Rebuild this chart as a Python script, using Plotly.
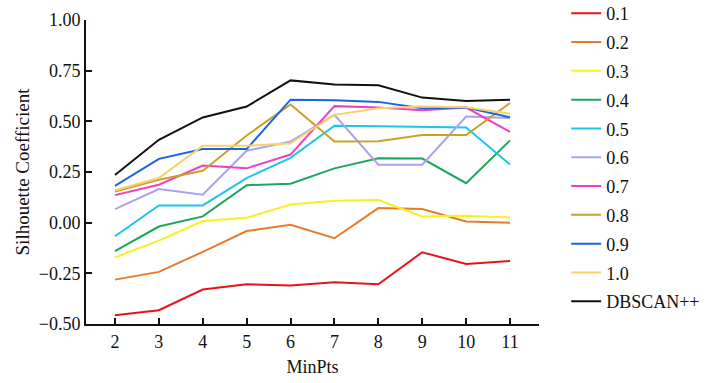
import plotly.graph_objects as go

minpts = [2, 3, 4, 5, 6, 7, 8, 9, 10, 11]
names = ["0.1", "0.2", "0.3", "0.4", "0.5", "0.6", "0.7", "0.8", "0.9", "1.0", "DBSCAN++"]

s01 = [-0.457, -0.432, -0.330, -0.304, -0.310, -0.294, -0.304, -0.146, -0.204, -0.189]
s02 = [-0.281, -0.243, -0.144, -0.041, -0.010, -0.077, 0.072, 0.067, 0.006, 0.000]
s03 = [-0.171, -0.089, 0.008, 0.024, 0.090, 0.108, 0.112, 0.031, 0.034, 0.026]
s04 = [-0.141, -0.019, 0.031, 0.185, 0.192, 0.268, 0.318, 0.316, 0.195, 0.406]
s05 = [-0.067, 0.085, 0.085, 0.220, 0.320, 0.478, 0.476, 0.472, 0.470, 0.287]
s06 = [0.067, 0.166, 0.138, 0.355, 0.400, 0.532, 0.286, 0.286, 0.524, 0.516]
s07 = [0.136, 0.187, 0.282, 0.268, 0.336, 0.575, 0.568, 0.555, 0.568, 0.448]
s08 = [0.154, 0.212, 0.256, 0.430, 0.583, 0.400, 0.402, 0.432, 0.432, 0.590]
s09 = [0.182, 0.315, 0.363, 0.363, 0.607, 0.604, 0.596, 0.565, 0.568, 0.520]
s10 = [0.160, 0.220, 0.379, 0.379, 0.392, 0.532, 0.565, 0.573, 0.570, 0.537]
dbscanpp = [0.235, 0.409, 0.519, 0.573, 0.702, 0.682, 0.678, 0.617, 0.600, 0.606]

series = [s01, s02, s03, s04, s05, s06, s07, s08, s09, s10, dbscanpp]
colors = ["#e5141c", "#e87a2c", "#f7f21c", "#1ea45c", "#1cc6e8", "#aaa2f0",
          "#ef3fc2", "#c9a128", "#1a63e8", "#f7d269", "#111111"]

font = "Liberation Serif, Times New Roman, serif"

fig = go.Figure()
for i, (nm, ys, c) in enumerate(zip(names, series, colors)):
    fig.add_trace(go.Scatter(x=minpts, y=ys, mode="lines", name=nm,
                             legendgroup=nm,
                             line=dict(color=c, width=2)))

fig.update_layout(
    width=722, height=383,
    margin=dict(l=86, r=183, t=20, b=59, autoexpand=False),
    paper_bgcolor="white", plot_bgcolor="white",
    font=dict(family=font, size=17, color="#111"),
    showlegend=True,
    legend=dict(x=1.06, y=1.082, xanchor="left", yanchor="top",
                font=dict(family=font, size=18, color="#111"),
                tracegroupgap=2.4, itemwidth=30, bgcolor="rgba(0,0,0,0)",
                maxheight=1.0),
)
fig.update_xaxes(range=[1.34, 11.66], tickvals=minpts, showgrid=False, zeroline=False,
                 showline=True, linecolor="#111", linewidth=2,
                 ticks="inside", ticklen=6, tickwidth=2, tickcolor="#111",
                 title=dict(text="MinPts", standoff=10, font=dict(size=18)),
                 tickfont=dict(family=font, size=18))
fig.update_yaxes(range=[-0.5, 1.0], tickvals=[-0.5, -0.25, 0, 0.25, 0.5, 0.75, 1.0],
                 tickformat=".2f", showgrid=False, zeroline=False,
                 showline=True, linecolor="#111", linewidth=2,
                 ticks="inside", ticklen=6, tickwidth=2, tickcolor="#111",
                 title=dict(text="Silhouette Coefficient", standoff=4, font=dict(size=19)),
                 tickfont=dict(family=font, size=18))

fig.write_html("out.html")
